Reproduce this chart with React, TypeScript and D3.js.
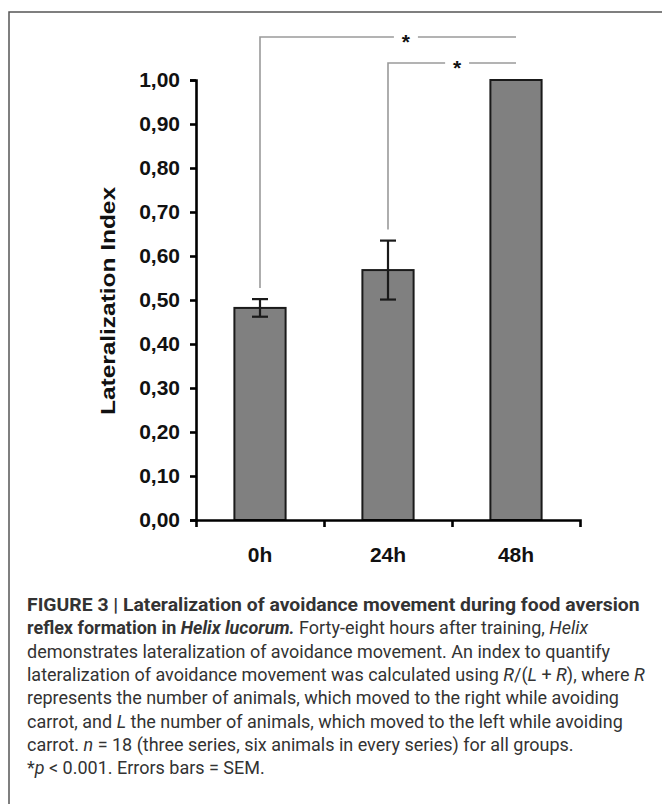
import React, { useEffect, useRef } from "react";
import * as d3 from "d3";

const categories = ["0h", "24h", "48h"];
const means = [0.482, 0.568, 1.0];
const sems = [0.02, 0.067, 0];
const yTicks = [0, 0.1, 0.2, 0.3, 0.4, 0.5, 0.6, 0.7, 0.8, 0.9, 1.0];
const yLabel = "Lateralization Index";
const comparisons = [
  { from: 0, to: 2, label: "*" },
  { from: 1, to: 2, label: "*" },
];

type Seg = { t: string; b?: boolean; i?: boolean };
const captionLines: Seg[][] = [
  [{ t: "FIGURE 3 | Lateralization of avoidance movement during food aversion", b: true }],
  [
    { t: "reflex formation in ", b: true },
    { t: "Helix lucorum.", b: true, i: true },
    { t: " Forty-eight hours after training, " },
    { t: "Helix", i: true },
  ],
  [{ t: "demonstrates lateralization of avoidance movement. An index to quantify" }],
  [
    { t: "lateralization of avoidance movement was calculated using " },
    { t: "R", i: true },
    { t: "/(" },
    { t: "L", i: true },
    { t: " + " },
    { t: "R", i: true },
    { t: "), where " },
    { t: "R", i: true },
  ],
  [{ t: "represents the number of animals, which moved to the right while avoiding" }],
  [
    { t: "carrot, and " },
    { t: "L", i: true },
    { t: " the number of animals, which moved to the left while avoiding" },
  ],
  [
    { t: "carrot. " },
    { t: "n", i: true },
    { t: " = 18 (three series, six animals in every series) for all groups." },
  ],
  [{ t: "*" }, { t: "p", i: true }, { t: " < 0.001. Errors bars = SEM." }],
];
const captionWidths = [612, 578, 576, 615, 598, 598, 537, 279];

const W = 662;
const H = 804;
const axisX0 = 196;
const axisX1 = 580;
const yTop = 80;
const yBottom = 520;
const bracketYs = [37, 63];
const starFrac = [0.57, 0.54];
const capX = 27;
const capY0 = 611;
const capDy = 23.3;

export default function App() {
  const gRef = useRef<SVGGElement>(null);
  const capRef = useRef<SVGGElement>(null);

  const y = d3.scaleLinear().domain([0, 1]).range([yBottom, yTop]);
  const xBand = d3.scaleBand().domain(categories).range([axisX0, axisX1]).padding(0);
  const barW = xBand.bandwidth() * 0.4;
  const cx = (i: number) => (xBand(categories[i]) as number) + xBand.bandwidth() / 2;

  useEffect(() => {
    const g = d3.select(gRef.current);
    g.selectAll("*").remove();
    const yAxis = d3
      .axisLeft(y)
      .tickValues(yTicks)
      .tickSize(6)
      .tickPadding(10)
      .tickFormat((d) => (d as number).toFixed(2).replace(".", ","));
    const ya = g.append("g").attr("transform", `translate(${axisX0},0)`).call(yAxis);
    ya.selectAll("path,line").attr("stroke", "#000").attr("stroke-width", 2.6);
    ya.selectAll("text")
      .attr("font-family", "Liberation Sans, Arial, sans-serif")
      .attr("font-weight", "bold")
      .attr("font-size", 21)
      .attr("fill", "#111");

    const xLin = d3.scaleLinear().domain([0, categories.length]).range([axisX0, axisX1]);
    const xAxis = d3
      .axisBottom(xLin)
      .tickValues(d3.range(1, categories.length))
      .tickSizeInner(7)
      .tickSizeOuter(7)
      .tickFormat(() => "");
    const xa = g.append("g").attr("transform", `translate(0,${yBottom})`).call(xAxis);
    xa.selectAll("path,line").attr("stroke", "#000").attr("stroke-width", 2.6);

    // fit caption lines horizontally: common scale for regular lines, own scale for the bold title line
    const cap = d3.select(capRef.current);
    const texts = cap.selectAll<SVGTextElement, unknown>("text").nodes();
    const ratios = texts.map((t, i) => captionWidths[i] / t.getComputedTextLength());
    const s = d3.median(ratios.slice(1, 7)) || 1;
    texts.forEach((t, i) => {
      const k = i === 0 ? ratios[0] : s;
      d3.select(t).attr(
        "transform",
        `translate(${capX},${capY0 + i * capDy}) scale(${k},1)`
      );
    });
  }, []);

  return (
    <svg
      width={W}
      height={H}
      style={{ position: "absolute", left: 0, top: 0, background: "#fff" }}
    >
      <path d={`M9,${H}V12H${W}`} fill="none" stroke="#555" strokeWidth={1.5} />

      {comparisons.map((c, k) => {
        const x1 = cx(c.from);
        const x2 = cx(c.to);
        const by = bracketYs[k];
        const sx = x1 + (x2 - x1) * starFrac[k];
        const gap = 12;
        const vEnd = y(means[c.from] + sems[c.from]) - 11;
        return (
          <g key={k}>
            <path
              d={`M${x1},${vEnd}V${by}H${sx - gap}M${sx + gap},${by}H${x2}`}
              fill="none"
              stroke="#9a9a9a"
              strokeWidth={1.6}
            />
            <text
              x={sx}
              y={by + 12}
              textAnchor="middle"
              fontFamily="Liberation Sans, Arial, sans-serif"
              fontWeight="bold"
              fontSize={21}
              fill="#111"
            >
              {c.label}
            </text>
          </g>
        );
      })}

      {categories.map((c, i) => (
        <rect
          key={c}
          x={cx(i) - barW / 2}
          y={y(means[i])}
          width={barW}
          height={y(0) - y(means[i])}
          fill="#808080"
          stroke="#1a1a1a"
          strokeWidth={2}
        />
      ))}

      {categories.map((c, i) =>
        sems[i] > 0 ? (
          <g key={c} stroke="#1a1a1a" strokeWidth={2.2}>
            <line x1={cx(i)} x2={cx(i)} y1={y(means[i] - sems[i])} y2={y(means[i] + sems[i])} />
            <line x1={cx(i) - 8} x2={cx(i) + 8} y1={y(means[i] + sems[i])} y2={y(means[i] + sems[i])} />
            <line x1={cx(i) - 8} x2={cx(i) + 8} y1={y(means[i] - sems[i])} y2={y(means[i] - sems[i])} />
          </g>
        ) : null
      )}

      <g ref={gRef} />

      {categories.map((c, i) => (
        <text
          key={c}
          x={cx(i)}
          y={562}
          textAnchor="middle"
          fontFamily="Liberation Sans, Arial, sans-serif"
          fontWeight="bold"
          fontSize={21}
          fill="#111"
        >
          {c}
        </text>
      ))}

      <text
        transform={`translate(115,301) rotate(-90)`}
        textAnchor="middle"
        fontFamily="Liberation Sans, Arial, sans-serif"
        fontWeight="bold"
        fontSize={20.5}
        fill="#111"
        textLength={228}
        lengthAdjust="spacingAndGlyphs"
      >
        {yLabel}
      </text>

      <g ref={capRef}>
        {captionLines.map((segs, li) => (
          <text
            key={li}
            transform={`translate(${capX},${capY0 + li * capDy}) scale(0.9,1)`}
            fontFamily="Roboto, Liberation Sans, sans-serif"
            fontSize={18.5}
            fill="#333"
          >
            {segs.map((s, si) => (
              <tspan
                key={si}
                fontWeight={s.b ? "bold" : "normal"}
                fontStyle={s.i ? "italic" : "normal"}
              >
                {s.t}
              </tspan>
            ))}
          </text>
        ))}
      </g>
    </svg>
  );
}
